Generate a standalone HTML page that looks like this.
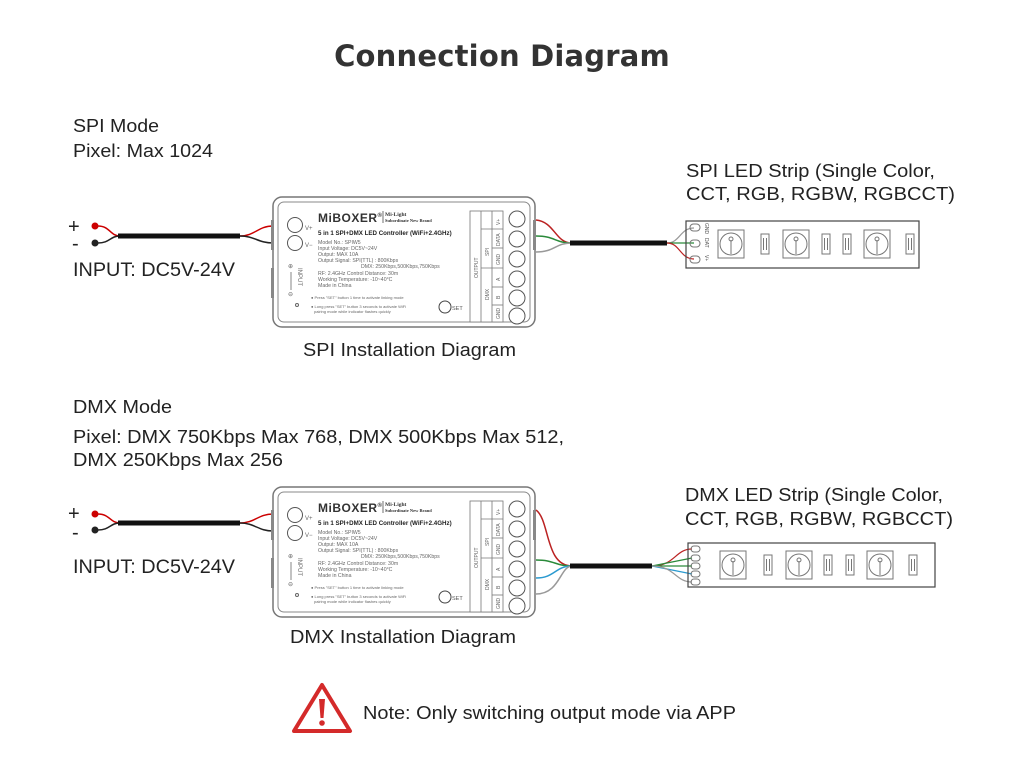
<!DOCTYPE html>
<html><head><meta charset="utf-8"><style>
html,body{margin:0;padding:0;background:#fff;}
svg{display:block;font-family:"Liberation Sans",sans-serif;}
</style></head><body>
<svg width="1024" height="768" viewBox="0 0 1024 768" xmlns="http://www.w3.org/2000/svg">
<defs>
<g id="ctrl">
 <rect x="273" y="197" width="262" height="130" rx="9" fill="#fff" stroke="#777" stroke-width="1.5"/>
 <rect x="278" y="202" width="252" height="120" rx="6" fill="#fff" stroke="#888" stroke-width="1"/>
 <rect x="271" y="220" width="3" height="30" fill="#888"/>
 <rect x="271" y="268" width="3" height="30" fill="#888"/>
 <rect x="533" y="220" width="3" height="30" fill="#888"/>
 <circle cx="295" cy="225" r="7.5" fill="#fff" stroke="#555"/>
 <circle cx="295" cy="243" r="7.5" fill="#fff" stroke="#555"/>
 <text x="305" y="230" font-size="6" fill="#666">V+</text>
 <text x="305" y="247" font-size="6" fill="#666">V−</text>
 <text x="288" y="268" font-size="6" fill="#666">⊕</text>
 <line x1="291" y1="272" x2="291" y2="290" stroke="#666" stroke-width="0.8"/>
 <text x="288" y="296" font-size="6" fill="#666">⊖</text>
 <text x="298" y="268" font-size="6" fill="#666" transform="rotate(90 298 268)">INPUT</text>
 <circle cx="297" cy="305" r="1.5" fill="none" stroke="#666"/>
 <text x="318" y="222" font-size="12" font-weight="bold" fill="#333" letter-spacing="0.5">MiBOXER<tspan font-size="6" dy="-5">®</tspan></text>
 <line x1="383" y1="211" x2="383" y2="223" stroke="#333" stroke-width="0.7"/>
 <text x="385" y="216" font-size="5.5" font-weight="bold" fill="#333" font-family="Liberation Serif,serif">Mi-Light</text>
 <text x="385" y="222" font-size="4.5" font-weight="bold" fill="#333" font-family="Liberation Serif,serif">Subordinate New Brand</text>
 <text x="318" y="235" font-size="6.2" font-weight="bold" fill="#222">5 in 1 SPI+DMX LED Controller (WiFi+2.4GHz)</text>
 <g font-size="5.2" fill="#666">
 <text x="318" y="244">Model No.: SPIW5</text>
 <text x="318" y="250">Input Voltage: DC5V~24V</text>
 <text x="318" y="256">Output: MAX 10A</text>
 <text x="318" y="262">Output Signal: SPI(TTL) : 800Kbps</text>
 <text x="361" y="268">DMX: 250Kbps,500Kbps,750Kbps</text>
 <text x="318" y="275">RF: 2.4GHz  Control Distance: 30m</text>
 <text x="318" y="281">Working Temperature: -10~40°C</text>
 <text x="318" y="287">Made in China</text>
 </g>
 <g font-size="4" fill="#666">
 <text x="311" y="299">● Press "SET" button 1 time to activate linking mode</text>
 <text x="311" y="308">● Long press "SET" button 3 seconds to activate WiFi</text>
 <text x="314" y="313">pairing mode while indicator flashes quickly</text>
 </g>
 <circle cx="445" cy="307" r="6" fill="#fff" stroke="#444"/>
 <text x="452" y="310" font-size="5.5" fill="#555">SET</text>
 <rect x="470" y="211" width="33" height="111" fill="#fff" stroke="#777" stroke-width="0.8"/>
 <line x1="481" y1="211" x2="481" y2="322" stroke="#777" stroke-width="0.8"/>
 <line x1="492" y1="211" x2="492" y2="322" stroke="#777" stroke-width="0.8"/>
 <line x1="481" y1="229" x2="503" y2="229" stroke="#777" stroke-width="0.8"/>
 <line x1="481" y1="268" x2="503" y2="268" stroke="#777" stroke-width="0.8"/>
 <line x1="492" y1="248" x2="503" y2="248" stroke="#777" stroke-width="0.8"/>
 <line x1="492" y1="287" x2="503" y2="287" stroke="#777" stroke-width="0.8"/>
 <line x1="492" y1="305" x2="503" y2="305" stroke="#777" stroke-width="0.8"/>
 <g font-size="5" fill="#666">
 <text transform="translate(478 278) rotate(-90)">OUTPUT</text>
 <text transform="translate(489 256) rotate(-90)">SPI</text>
 <text transform="translate(489 300) rotate(-90)">DMX</text>
 <text transform="translate(500 225) rotate(-90)">V+</text>
 <text transform="translate(500 246) rotate(-90)">DATA</text>
 <text transform="translate(500 265) rotate(-90)">GND</text>
 <text transform="translate(500 281) rotate(-90)">A</text>
 <text transform="translate(500 299) rotate(-90)">B</text>
 <text transform="translate(500 319) rotate(-90)">GND</text>
 </g>
 <g fill="#fff" stroke="#555">
 <circle cx="517" cy="219" r="8"/><circle cx="517" cy="239" r="8"/><circle cx="517" cy="259" r="8"/>
 <circle cx="517" cy="279" r="8"/><circle cx="517" cy="298" r="8"/><circle cx="517" cy="316" r="8"/>
 </g>
</g>
<g id="led" fill="none" stroke="#777" stroke-width="1">
 <rect x="-13" y="-14" width="26" height="28"/>
 <circle cx="0" cy="0" r="11"/>
 <line x1="0" y1="-4" x2="0" y2="10"/>
 <circle cx="0" cy="-5" r="2"/>
</g>
<g id="res" fill="none" stroke="#777" stroke-width="1">
 <rect x="-4" y="-10" width="8" height="20"/>
 <line x1="-1.5" y1="-6" x2="-1.5" y2="6"/><line x1="1.5" y1="-6" x2="1.5" y2="6"/>
</g>
</defs>

<text x="502" y="66" font-size="29" font-weight="bold" fill="#333" text-anchor="middle" font-family="DejaVu Sans,sans-serif" letter-spacing="0.2">Connection Diagram</text>

<!-- SPI section -->
<g font-size="18" fill="#222" lengthAdjust="spacingAndGlyphs">
<text x="73" y="132" textLength="86" lengthAdjust="spacingAndGlyphs">SPI Mode</text>
<text x="73" y="157" textLength="140" lengthAdjust="spacingAndGlyphs">Pixel: Max 1024</text>
<text x="73" y="276" font-size="19" textLength="162" lengthAdjust="spacingAndGlyphs">INPUT: DC5V-24V</text>
<text x="686" y="177" textLength="249" lengthAdjust="spacingAndGlyphs">SPI LED Strip (Single Color,</text>
<text x="686" y="200" textLength="269" lengthAdjust="spacingAndGlyphs">CCT, RGB, RGBW, RGBCCT)</text>
<text x="303" y="356" textLength="213" lengthAdjust="spacingAndGlyphs">SPI Installation Diagram</text>
</g>
<text x="68" y="233" font-size="20" fill="#222">+</text>
<text x="72" y="250" font-size="20" fill="#222">-</text>
<circle cx="95" cy="226" r="3.5" fill="#c00"/>
<circle cx="95" cy="243" r="3.5" fill="#222"/>
<path d="M98 226 C110 226,110 236,120 236" stroke="#c00" fill="none" stroke-width="1.5"/>
<path d="M98 243 C110 243,110 236,120 236" stroke="#222" fill="none" stroke-width="1.5"/>
<line x1="118" y1="236" x2="240" y2="236" stroke="#111" stroke-width="5"/>
<path d="M240 236 C255 236,258 226,273 226" stroke="#c00" fill="none" stroke-width="1.5"/>
<path d="M240 236 C255 236,258 243,273 243" stroke="#222" fill="none" stroke-width="1.5"/>
<use href="#ctrl"/>
<path d="M536 220 C555 222,555 243,572 243" stroke="#b22" fill="none" stroke-width="1.5"/>
<path d="M536 236 C555 236,555 243,572 243" stroke="#2a8a3a" fill="none" stroke-width="1.5"/>
<path d="M536 252 C555 252,555 243,572 243" stroke="#999" fill="none" stroke-width="1.5"/>
<line x1="570" y1="243" x2="667" y2="243" stroke="#111" stroke-width="5"/>
<path d="M667 243 C680 243,680 228,694 228" stroke="#999" fill="none" stroke-width="1.2"/>
<path d="M667 243 L694 243" stroke="#2a8a3a" fill="none" stroke-width="1.2"/>
<path d="M667 243 C680 243,680 259,694 259" stroke="#b22" fill="none" stroke-width="1.2"/>
<rect x="686" y="221" width="233" height="47" fill="none" stroke="#444" stroke-width="1.2"/>
<g fill="none" stroke="#777"><rect x="690" y="224" width="10" height="7" rx="3.5"/><rect x="690" y="240" width="10" height="7" rx="3.5"/><rect x="690" y="256" width="10" height="7" rx="3.5"/></g>
<g font-size="5" fill="#555"><text transform="translate(705 223) rotate(90)">GND</text><text transform="translate(705 238) rotate(90)">DAT</text><text transform="translate(705 255) rotate(90)">V+</text></g>
<use href="#led" x="731" y="244"/><use href="#res" x="765" y="244"/><use href="#led" x="796" y="244"/>
<use href="#res" x="826" y="244"/><use href="#res" x="847" y="244"/><use href="#led" x="877" y="244"/><use href="#res" x="910" y="244"/>

<!-- DMX section -->
<g font-size="18" fill="#222">
<text x="73" y="413" textLength="99" lengthAdjust="spacingAndGlyphs">DMX Mode</text>
<text x="73" y="443" textLength="491" lengthAdjust="spacingAndGlyphs">Pixel: DMX 750Kbps Max 768, DMX 500Kbps Max 512,</text>
<text x="73" y="466" textLength="210" lengthAdjust="spacingAndGlyphs">DMX 250Kbps Max 256</text>
<text x="73" y="573" font-size="19" textLength="162" lengthAdjust="spacingAndGlyphs">INPUT: DC5V-24V</text>
<text x="685" y="501" textLength="258" lengthAdjust="spacingAndGlyphs">DMX LED Strip (Single Color,</text>
<text x="685" y="525" textLength="268" lengthAdjust="spacingAndGlyphs">CCT, RGB, RGBW, RGBCCT)</text>
<text x="290" y="643" textLength="226" lengthAdjust="spacingAndGlyphs">DMX Installation Diagram</text>
</g>
<text x="68" y="520" font-size="20" fill="#222">+</text>
<text x="72" y="539" font-size="20" fill="#222">-</text>
<circle cx="95" cy="514" r="3.5" fill="#c00"/>
<circle cx="95" cy="530" r="3.5" fill="#222"/>
<path d="M98 514 C110 514,110 523,120 523" stroke="#c00" fill="none" stroke-width="1.5"/>
<path d="M98 530 C110 530,110 523,120 523" stroke="#222" fill="none" stroke-width="1.5"/>
<line x1="118" y1="523" x2="240" y2="523" stroke="#111" stroke-width="5"/>
<path d="M240 523 C255 523,258 514,273 514" stroke="#c00" fill="none" stroke-width="1.5"/>
<path d="M240 523 C255 523,258 531,273 531" stroke="#222" fill="none" stroke-width="1.5"/>
<use href="#ctrl" y="290"/>
<path d="M536 510 C550 520,545 566,572 566" stroke="#b22" fill="none" stroke-width="1.5"/>
<path d="M536 560 C555 560,555 566,572 566" stroke="#2a8a3a" fill="none" stroke-width="1.5"/>
<path d="M536 578 C555 578,555 566,572 566" stroke="#2a9ad0" fill="none" stroke-width="1.5"/>
<path d="M536 594 C560 594,560 566,572 566" stroke="#999" fill="none" stroke-width="1.5"/>
<line x1="570" y1="566" x2="652" y2="566" stroke="#111" stroke-width="5"/>
<path d="M652 566 C675 566,675 549,692 549" stroke="#b22" fill="none" stroke-width="1.2"/>
<path d="M652 566 L692 558" stroke="#2a8a3a" fill="none" stroke-width="1.2"/>
<path d="M652 566 L692 566" stroke="#2a8a3a" fill="none" stroke-width="1.2"/>
<path d="M652 566 L692 574" stroke="#2a9ad0" fill="none" stroke-width="1.2"/>
<path d="M652 566 C675 566,675 582,692 582" stroke="#999" fill="none" stroke-width="1.2"/>
<rect x="688" y="543" width="247" height="44" fill="none" stroke="#444" stroke-width="1.2"/>
<g fill="none" stroke="#777"><rect x="691" y="546" width="9" height="6" rx="3"/><rect x="691" y="555" width="9" height="6" rx="3"/><rect x="691" y="563" width="9" height="6" rx="3"/><rect x="691" y="571" width="9" height="6" rx="3"/><rect x="691" y="579" width="9" height="6" rx="3"/></g>
<use href="#led" x="733" y="565"/><use href="#res" x="768" y="565"/><use href="#led" x="799" y="565"/>
<use href="#res" x="828" y="565"/><use href="#res" x="850" y="565"/><use href="#led" x="880" y="565"/><use href="#res" x="913" y="565"/>

<!-- note -->
<path d="M322 685 L350 731 L294 731 Z" fill="none" stroke="#d42a2a" stroke-width="4" stroke-linejoin="round"/>
<path d="M319 699 L325 699 L323.5 718 L320.5 718 Z" fill="#d42a2a"/>
<circle cx="322" cy="723" r="2.8" fill="#d42a2a"/>
<text x="363" y="719" font-size="18" fill="#222" textLength="373" lengthAdjust="spacingAndGlyphs">Note: Only switching output mode via APP</text>
</svg>
</body></html>
